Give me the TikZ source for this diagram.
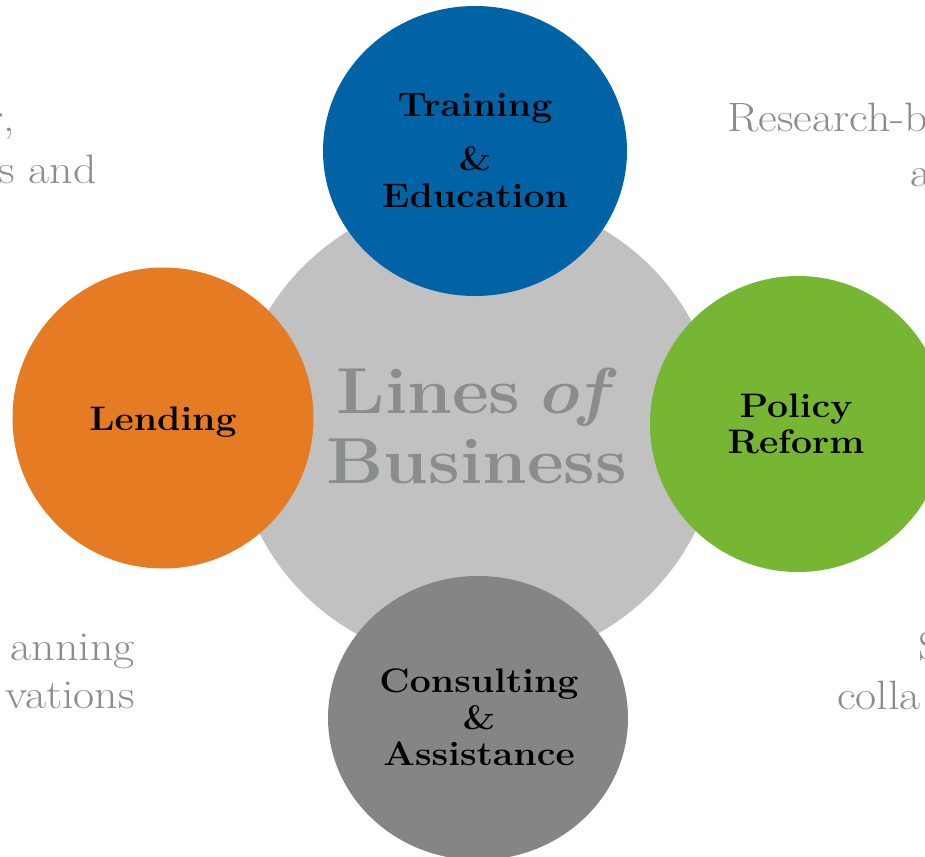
\documentclass[tikz,border=0pt]{standalone}
\usepackage{graphicx}
\usetikzlibrary{shapes.geometric}
\definecolor{cblue}{HTML}{0063A6}
\definecolor{corange}{HTML}{E57C23}
\definecolor{cgreen}{HTML}{76B633}
\definecolor{cdgray}{HTML}{858585}
\definecolor{clgray}{HTML}{C1C1C1}
\definecolor{ctext}{HTML}{8A8D8D}
\definecolor{sidegray}{HTML}{8C8C8C}
\newcommand\myxw[1]{\scalebox{1.1}[1]{#1}}
\newcommand\myxs[1]{\scalebox{1.12}[1]{#1}}
\begin{document}
\begin{tikzpicture}[x=1pt,y=-1pt,
  blob/.style={ellipse, inner sep=0pt},
  lbl/.style={font=\fontsize{34}{40}\selectfont\bfseries, text=black, anchor=base, inner sep=0pt},
  coretext/.style={font=\fontsize{65}{72}\selectfont\bfseries, text=ctext, anchor=base, inner sep=0pt},
  sidetxt/.style={font=\fontsize{41}{48}\selectfont, text=sidegray, inner sep=0pt}]
\useasboundingbox (0,0) rectangle (925,856);
% side texts (cut by the page edge)
\node[sidetxt, anchor=base east] (tl1) at (15,131) {\myxs{r,}};
\node[sidetxt, anchor=base east] (tl2) at (97,183) {\myxs{s and}};
\node[sidetxt, anchor=base west] (tr1) at (727,131) {\myxs{Research-b}};
\node[sidetxt, anchor=base west] (tr2) at (910,186) {\myxs{a}};
\node[sidetxt, anchor=base east] (bl1) at (135,660) {\myxs{anning}};
\node[sidetxt, anchor=base east] (bl2) at (135,708) {\myxs{vations}};
\node[sidetxt, anchor=base west] (br1) at (918,660) {\myxs{S}};
\node[sidetxt, anchor=base west] (br2) at (837,709) {\myxs{colla}};
% circles
\node[blob, fill=clgray, minimum width=484pt, minimum height=470pt] (core) at (477,430) {};
\node[blob, fill=cblue, minimum width=304pt, minimum height=290pt] (train) at (475,151) {};
\node[blob, fill=corange, minimum width=301pt, minimum height=301pt] (lend) at (163,418) {};
\node[blob, fill=cgreen, minimum width=296pt, minimum height=296pt] (policy) at (798,424) {};
\node[blob, fill=cdgray, minimum width=300pt, minimum height=284pt] (consult) at (478,718) {};
% labels
\node[coretext] (c1) at (477,413) {\myxw{Lines\hspace{-0.15em} \textit{of}}};
\node[coretext] (c2) at (477,483) {\myxw{Business}};
\node[lbl] (t1) at (475,117) {\myxw{Training}};
\node[lbl] (t2) at (475,170) {\myxw{\&}};
\node[lbl] (t3) at (475,207) {\myxw{Education}};
\node[lbl] (l1) at (163,430) {\myxw{Lending}};
\node[lbl] (p1) at (796,417) {\myxw{Policy}};
\node[lbl] (p2) at (796,453) {\myxw{Reform}};
\node[lbl] (k1) at (479,692) {\myxw{Consulting}};
\node[lbl] (k2) at (479,729) {\myxw{\&}};
\node[lbl] (k3) at (479,765) {\myxw{Assistance}};
\end{tikzpicture}
\end{document}
